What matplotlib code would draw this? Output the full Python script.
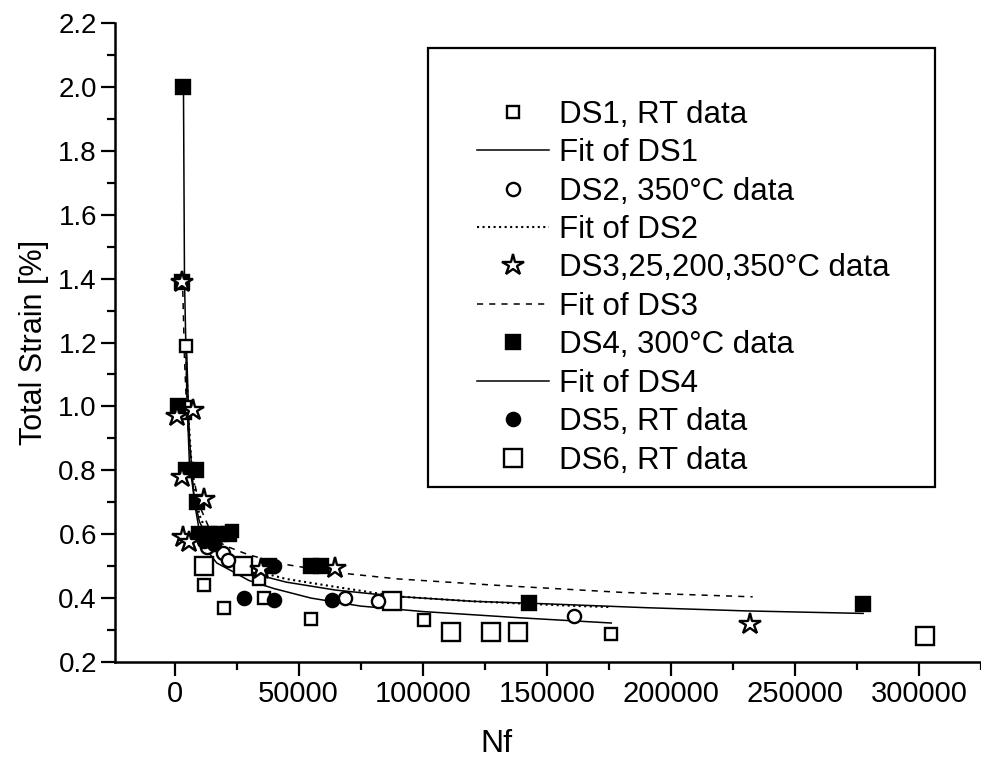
import matplotlib
matplotlib.use("Agg")
import matplotlib.pyplot as plt
from matplotlib.patches import Rectangle
from matplotlib.ticker import MultipleLocator

plt.rcParams['font.family'] = ['Liberation Sans', 'DejaVu Sans']

# ---- data ----
ds1_n = [4800, 12000, 20000, 23000, 34000, 36000, 55000, 100500, 176000]
ds1_y = [1.19, 0.44, 0.37, 0.61, 0.46, 0.40, 0.335, 0.33, 0.288]

ds2_n = [13000, 19500, 21500, 68500, 82000, 161000]
ds2_y = [0.56, 0.54, 0.52, 0.40, 0.39, 0.345]

ds3_n = [3200, 1000, 7500, 2800, 12000, 3300, 6000, 35000, 64500, 232000]
ds3_y = [1.39, 0.97, 0.99, 0.78, 0.71, 0.59, 0.575, 0.49, 0.495, 0.32]

ds4_n = [3600, 1500, 3200, 4500, 8500, 9000, 10000, 14000, 18000, 22000,
         38000, 55000, 59000, 143000, 277500]
ds4_y = [2.0, 1.0, 1.39, 0.8, 0.8, 0.70, 0.6, 0.6, 0.6, 0.6,
         0.5, 0.5, 0.5, 0.385, 0.38]

ds5_n = [12000, 16000, 28000, 40000, 40000, 63500]
ds5_y = [0.58, 0.57, 0.40, 0.395, 0.50, 0.395]

ds6_n = [3200, 12000, 27500, 87800, 111500, 127700, 138600, 302600]
ds6_y = [0.99, 0.50, 0.50, 0.39, 0.294, 0.294, 0.294, 0.281]

# fit curves
fit1_n = [4800, 6000, 8000, 10000, 13000, 17000, 23000, 30000, 40000,
          55000, 75000, 100000, 140000, 176000]
fit1_y = [1.19, 0.90, 0.70, 0.61, 0.55, 0.51, 0.485, 0.455, 0.43,
          0.40, 0.375, 0.358, 0.338, 0.322]

fit2_n = [4500, 5500, 7000, 10000, 15000, 20000, 30000, 45000, 65000,
          90000, 120000, 160000, 175000]
fit2_y = [1.19, 0.98, 0.80, 0.66, 0.57, 0.53, 0.49, 0.46, 0.435,
          0.405, 0.39, 0.376, 0.372]

fit3_n = [3200, 4000, 5000, 7000, 10000, 15000, 20000, 30000, 45000,
          65000, 90000, 130000, 180000, 233000]
fit3_y = [1.40, 1.15, 0.97, 0.80, 0.69, 0.60, 0.565, 0.535, 0.505,
          0.48, 0.46, 0.44, 0.418, 0.404]

fit4_n = [3600, 4000, 5000, 6000, 8000, 10000, 15000, 20000, 30000,
          45000, 65000, 90000, 120000, 150000, 190000, 230000, 277500]
fit4_y = [1.99, 1.40, 1.02, 0.82, 0.71, 0.64, 0.56, 0.52, 0.48,
          0.45, 0.425, 0.405, 0.39, 0.382, 0.37, 0.36, 0.352]

x_ticks = [0, 50000, 100000, 150000, 200000, 250000, 300000]
y_ticks = [0.2, 0.4, 0.6, 0.8, 1.0, 1.2, 1.4, 1.6, 1.8, 2.0, 2.2]

# ---- figure ----
fig = plt.figure(figsize=(9.81, 7.63), dpi=100)
ax = fig.add_axes([115 / 981, 1 - 662 / 763, 866 / 981, 639 / 763])

lw_fit = 1.1
mew = 1.7
narrow = ['Liberation Sans Narrow', 'Liberation Sans']

h1, = ax.plot(ds1_n, ds1_y, 's', ms=8.5, mfc='white', mec='black', mew=mew,
              ls='none', zorder=5, label='DS1, RT data')
f1, = ax.plot(fit1_n, fit1_y, '-', color='black', lw=lw_fit, zorder=3,
              label='Fit of DS1')
h2, = ax.plot(ds2_n, ds2_y, 'o', ms=9.5, mfc='white', mec='black', mew=mew,
              ls='none', zorder=5, label='DS2, 350°C data')
f2, = ax.plot(fit2_n, fit2_y, ':', color='black', lw=1.5, zorder=3,
              label='Fit of DS2')
h3, = ax.plot(ds3_n, ds3_y, '*', ms=16, mfc='white', mec='black', mew=mew,
              ls='none', zorder=6, label='DS3,25,200,350°C data')
f3, = ax.plot(fit3_n, fit3_y, color='black', lw=lw_fit, dashes=(4, 4),
              zorder=3, label='Fit of DS3')
h4, = ax.plot(ds4_n, ds4_y, 's', ms=9.5, mfc='black', mec='black', mew=mew,
              ls='none', zorder=5, label='DS4, 300°C data')
f4, = ax.plot(fit4_n, fit4_y, '-', color='black', lw=lw_fit, zorder=3,
              label='Fit of DS4')
h5, = ax.plot(ds5_n, ds5_y, 'o', ms=9.5, mfc='black', mec='black', mew=mew,
              ls='none', zorder=5, label='DS5, RT data')
h6, = ax.plot(ds6_n, ds6_y, 's', ms=13, mfc='white', mec='black', mew=mew,
              ls='none', zorder=4, label='DS6, RT data')

# ---- axes styling ----
ax.set_xlim(-24000, 325000)
ax.set_ylim(0.2, 2.2)
ax.set_xticks(x_ticks)
ax.set_yticks(y_ticks)
ax.xaxis.set_minor_locator(MultipleLocator(25000))
ax.yaxis.set_minor_locator(MultipleLocator(0.1))
ax.set_yticklabels([f'{v:.1f}' for v in y_ticks], fontsize=20)
ax.set_xticklabels([str(v) for v in x_ticks], fontsize=21, family=narrow)
for s in ['top', 'right']:
    ax.spines[s].set_visible(False)
for s in ['left', 'bottom']:
    ax.spines[s].set_linewidth(1.8)
ax.tick_params(which='major', length=10, width=1.6, direction='out', pad=3)
ax.tick_params(which='minor', length=6, width=1.6, direction='out')

ax.set_ylabel('Total Strain [%]', fontsize=22)
ax.yaxis.set_label_coords(-0.076, 0.50)
ax.set_xlabel('Nf', fontsize=23, family=narrow)
ax.xaxis.set_label_coords(0.441, -0.105)

# ---- legend with its own box ----
ax.add_patch(Rectangle((0.361, 0.274), 0.586, 0.687, transform=ax.transAxes,
                       fill=False, lw=1.6, ec='black', zorder=7))
ax.legend(handles=[h1, f1, h2, f2, h3, f3, h4, f4, h5, h6],
          loc='upper left', bbox_to_anchor=(0.418, 0.88),
          frameon=False, fontsize=22.5, borderpad=0, borderaxespad=0,
          handlelength=2.3, handletextpad=0.33, labelspacing=0.27,
          numpoints=1)

fig.savefig('out.png', dpi=100)
